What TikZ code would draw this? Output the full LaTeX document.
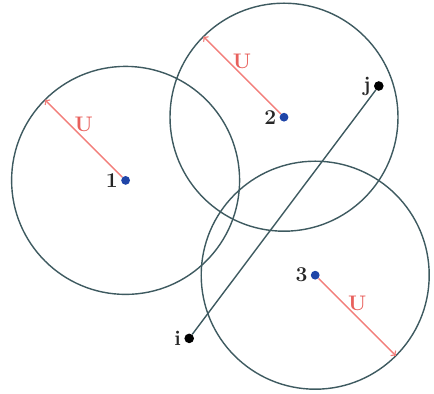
\documentclass[tikz,border=0pt]{standalone}
\usepackage{tikz}
\usepackage{xcolor}

\definecolor{ringgray}{HTML}{3E5A60}
\definecolor{radred}{HTML}{F27E7A}
\definecolor{ured}{HTML}{E8605C}
\definecolor{siteblue}{HTML}{1F45A8}

\begin{document}
\begin{tikzpicture}[
    ring/.style={draw=ringgray, line width=1pt},
    site/.style={circle, fill=siteblue, inner sep=0pt, minimum size=0.22cm},
    endpt/.style={circle, fill=black, inner sep=0pt, minimum size=0.24cm},
    radarrow/.style={draw=radred, line width=1pt, ->},
    ulab/.style={text=ured, font=\fontsize{15}{18}\selectfont\bfseries},
    numlab/.style={font=\fontsize{15}{18}\selectfont\bfseries, text=black!85, inner sep=2pt}
  ]
  \useasboundingbox (0,0) rectangle (10.85,9.85);

  % Centres and end points
  \node[site, label={[numlab]left:1}] (c1) at (3.14,5.34) {};
  \node[site, label={[numlab]left:2}] (c2) at (7.10,6.92) {};
  \node[site, label={[numlab]left:3}] (c3) at (7.88,2.97) {};
  \node[endpt, label={[numlab]left:i}] (pi) at (4.73,1.39) {};
  \node[endpt, label={[numlab]left:j}] (pj) at (9.47,7.70) {};

  % Circles of radius U
  \draw[ring] (c1.center) circle (2.85);
  \draw[ring] (c2.center) circle (2.85);
  \draw[ring] (c3.center) circle (2.85);

  % Segment from i to j
  \draw[ring] (pi) -- (pj);

  % Radius arrows
  \path (c1.center) ++(135:2.85) coordinate (r1);
  \path (c2.center) ++(135:2.85) coordinate (r2);
  \path (c3.center) ++(-45:2.85) coordinate (r3);
  \draw[radarrow] (c1) -- (r1) node[midway, above=1pt, ulab] {U};
  \draw[radarrow] (c2) -- (r2) node[midway, above=1pt, ulab] {U};
  \draw[radarrow] (c3) -- (r3) node[midway, above=1pt, ulab] {U};
\end{tikzpicture}
\end{document}
